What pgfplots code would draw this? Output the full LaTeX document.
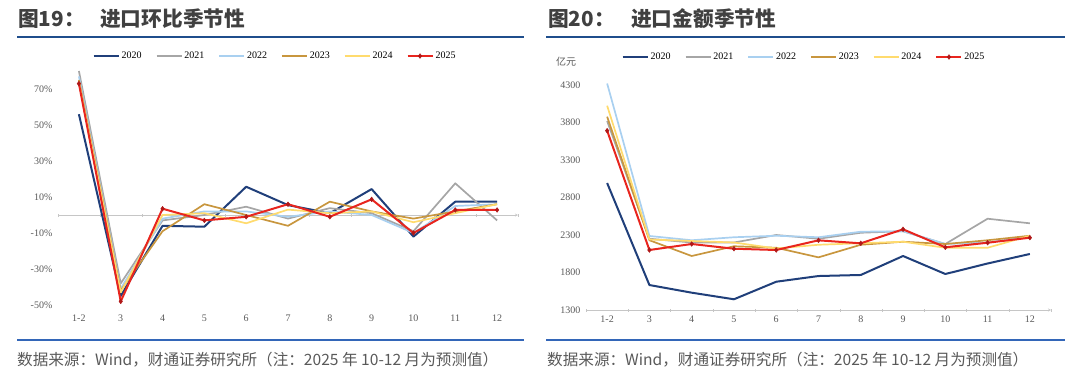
\documentclass[border=0pt]{standalone}
\usepackage{pgfplots}
\pgfplotsset{compat=1.18}
\usepackage{fontspec}
\setmainfont{Liberation Serif}
\newfontfamily\cjk{Noto Sans CJK SC}
\definecolor{c20}{HTML}{203F7A}
\definecolor{c21}{HTML}{A6A6A6}
\definecolor{c22}{HTML}{A9D0F0}
\definecolor{c23}{HTML}{C8963E}
\definecolor{c24}{HTML}{FFDB6E}
\definecolor{c25}{HTML}{E8251E}
\definecolor{m25}{HTML}{B01818}
\definecolor{ttl}{HTML}{404040}
\definecolor{src}{HTML}{595959}
\definecolor{rule1}{HTML}{1F4E8C}
\definecolor{rule2}{HTML}{3366B8}
\definecolor{tk}{HTML}{595959}

\pgfplotstableread{
x  a20  a21  a22  a23  a24  a25
0  56   80   77   75   74   73
1  -45  -38  -41  -42  -43  -48
2  -6   -3   -2   -9   0    3.5
3  -6.5 0    2    6    1    -3
4  15.7 4.6  2    0    -4.6 -1
5  5.5  -2   -1   -6   3    6
6  1    3.8  2    7.4  1    -1
7  14.4 1    0    2    2    8.7
8  -12  -9   -10  -2   -4   -10
9  7.4  17.6 5    2    1    2.8
10 7.4  -3   6    6    6    2.8
}\momdata

\pgfplotstableread{
x  a20  a21  a22  a23  a24  a25
0  2993 3820 4320 3878 4024 3691
1  1633 2250 2287 2230 2240 2100
2  1531 2200 2230 2020 2220 2180
3  1443 2200 2270 2150 2200 2117
4  1677 2300 2290 2130 2120 2100
5  1753 2250 2270 2002 2170 2229
6  1767 2330 2344 2170 2190 2189
7  2020 2350 2350 2210 2210 2376
8  1780 2180 2180 2180 2130 2136
9  1920 2517 2200 2230 2130 2197
10 2047 2456 2280 2290 2290 2264
}\valdata

\pgfplotsset{
  common/.style={
    scale only axis,
    xmin=-0.5, xmax=10.5,
    xtick={0,...,10},
    xticklabels={1-2,3,4,5,6,7,8,9,10,11,12},
    minor xtick={-0.5,0.5,...,10.5},
    major x tick style={draw=none},
    minor x tick style={gray!45},
    minor tick length=3pt,
    tick align=outside,
    major y tick style={draw=none},
    y axis line style={draw=none},
    x axis line style={gray!45, -},
    tick label style={font=\fontsize{10}{12}\selectfont, text=tk},
    legend style={draw=none, fill=none, font=\fontsize{10}{12}\selectfont,
      legend columns=6, anchor=center,
      /tikz/every even column/.append style={column sep=12pt}},
    legend image code/.code={\draw[mark repeat=2,mark phase=2,##1] plot coordinates {(0pt,0pt) (12.5pt,0pt) (25pt,0pt)};},
    every axis plot/.append style={line join=round},
  },
  s20/.style={c20, line width=2pt, mark=none},
  s21/.style={c21, line width=1.7pt, mark=none},
  s22/.style={c22, line width=1.7pt, mark=none},
  s23/.style={c23, line width=1.7pt, mark=none},
  s24/.style={c24, line width=1.7pt, mark=none},
  s25/.style={c25, line width=2pt, mark=diamond*, mark size=2.4pt, mark options={fill=m25, draw=m25, line width=0.4pt}},
}

\begin{document}
\begin{tikzpicture}[x=1pt,y=1pt]
\path[use as bounding box] (0,0) rectangle (1080,-380);

% titles
\node[anchor=west, inner sep=0, text=ttl] at (18,-19) {\cjk\bfseries\fontsize{20.7}{24}\selectfont 图19：};
\node[anchor=west, inner sep=0, text=ttl] at (100,-19) {\cjk\bfseries\fontsize{20.7}{24}\selectfont 进口环比季节性};
\node[anchor=west, inner sep=0, text=ttl] at (548,-19) {\cjk\bfseries\fontsize{20.7}{24}\selectfont 图20：};
\node[anchor=west, inner sep=0, text=ttl] at (631,-19) {\cjk\bfseries\fontsize{20.7}{24}\selectfont 进口金额季节性};
\draw[rule1, line width=1.5pt] (17,-37) -- (524,-37);
\draw[rule1, line width=1.5pt] (546,-37) -- (1065,-37);
\draw[rule2, line width=1.2pt] (17,-340) -- (524,-340);
\draw[rule2, line width=1.2pt] (546,-340) -- (1065,-340);
\node[anchor=west, inner sep=0, text=src] at (17,-360) {\cjk\fontsize{15.6}{18}\selectfont 数据来源：Wind，财通证券研究所（注：2025 年 10-12 月为预测值）};
\node[anchor=west, inner sep=0, text=src] at (547,-360) {\cjk\fontsize{15.6}{18}\selectfont 数据来源：Wind，财通证券研究所（注：2025 年 10-12 月为预测值）};

% left chart
\begin{axis}[common,
  at={(58pt,-308.6pt)}, anchor=south west,
  width=460pt, height=241.2pt,
  ymin=-52, ymax=82,
  axis x line=middle, axis y line=left,
  ytick={-50,-30,-10,10,30,50,70},
  yticklabels={-50\%,-30\%,-10\%,10\%,30\%,50\%,70\%},
  xticklabel style={yshift=-94pt},
  legend style={at={(0.472,1.047)}},
]
\addplot[s20] table[x=x,y=a20] {\momdata};
\addplot[s21] table[x=x,y=a21] {\momdata};
\addplot[s22] table[x=x,y=a22] {\momdata};
\addplot[s23] table[x=x,y=a23] {\momdata};
\addplot[s24] table[x=x,y=a24] {\momdata};
\addplot[s25] table[x=x,y=a25] {\momdata};
\legend{2020,2021,2022,2023,2024,2025}
\end{axis}

% right chart
\node[text=src, inner sep=0] at (566,-62) {\cjk\fontsize{10}{12}\selectfont 亿元};
\begin{axis}[common,
  at={(586pt,-310pt)}, anchor=south west,
  width=465pt, height=232.5pt,
  ymin=1300, ymax=4400,
  axis x line=bottom, axis y line=left,
  ytick={1300,1800,...,4300},
  yticklabel style={/pgf/number format/.cd, 1000 sep={}, assume math mode=true},
  legend style={at={(0.469,1.088)}},
]
\addplot[s20] table[x=x,y=a20] {\valdata};
\addplot[s21] table[x=x,y=a21] {\valdata};
\addplot[s22] table[x=x,y=a22] {\valdata};
\addplot[s23] table[x=x,y=a23] {\valdata};
\addplot[s24] table[x=x,y=a24] {\valdata};
\addplot[s25] table[x=x,y=a25] {\valdata};
\legend{2020,2021,2022,2023,2024,2025}
\end{axis}
\end{tikzpicture}
\end{document}
